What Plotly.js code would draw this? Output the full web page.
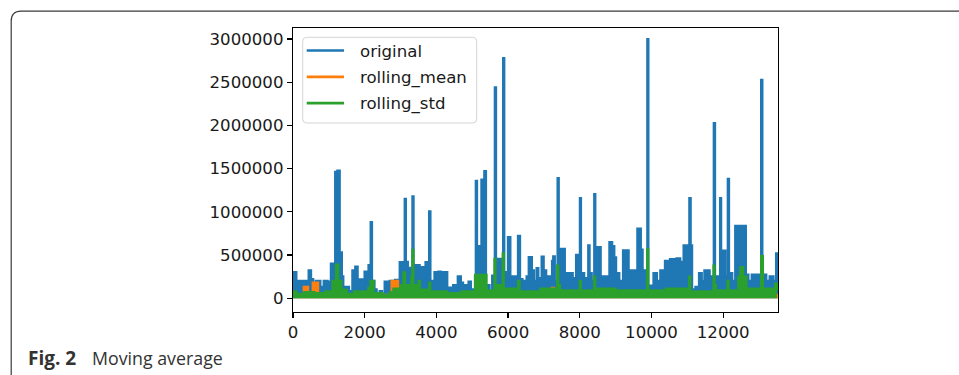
<!DOCTYPE html>
<html><head><meta charset="utf-8">
<script src="https://cdn.plot.ly/plotly-3.0.1.min.js"></script>
<style>html,body{margin:0;padding:0;background:#fff;overflow:hidden}#chart{width:959px;height:375px}</style>
</head><body><div id="chart"></div>
<script>
// ---- data ----
const seriesNames = ['original', 'rolling_mean', 'rolling_std'];
const seriesColors = ['#1f77b4', '#ff7f0e', '#2ca02c'];

const origIdx = [0, 90, 160, 300, 330, 440, 500, 560, 640, 760, 860, 960, 1060, 1180, 1240, 1300, 1360, 1400, 1560, 1660, 1740, 1800, 1860, 1960, 2000, 2110, 2170, 2200, 2270, 2330, 2420, 2480, 2560, 2700, 2850, 2980, 3060, 3120, 3145, 3200, 3335, 3360, 3430, 3530, 3600, 3650, 3700, 3800, 3830, 3900, 3950, 4000, 4060, 4120, 4180, 4230, 4260, 4300, 4470, 4600, 4680, 4740, 4900, 4960, 5080, 5103, 5130, 5260, 5300, 5340, 5380, 5480, 5560, 5634, 5660, 5700, 5760, 5866, 5890, 5950, 6000, 6060, 6150, 6200, 6280, 6330, 6400, 6450, 6520, 6580, 6660, 6720, 6800, 6840, 6940, 6990, 7060, 7120, 7230, 7262, 7300, 7385, 7410, 7480, 7580, 7650, 7720, 7800, 7900, 7940, 8007, 8030, 8120, 8240, 8270, 8330, 8407, 8430, 8500, 8580, 8680, 8750, 8830, 8900, 8960, 9010, 9100, 9210, 9360, 9450, 9520, 9610, 9700, 9750, 9888, 9910, 10060, 10150, 10250, 10380, 10470, 10520, 10700, 10800, 10900, 11060, 11090, 11130, 11230, 11330, 11400, 11480, 11620, 11742, 11770, 11850, 11918, 11940, 12000, 12060, 12133, 12160, 12250, 12340, 12630, 12700, 12800, 13063, 13090, 13200, 13300, 13400, 13480, 13530];
const origVal = [300000, 90000, 200000, 150000, 200000, 320000, 220000, 160000, 200000, 130000, 200000, 190000, 400000, 1460000, 1475000, 530000, 250000, 130000, 80000, 320000, 365000, 200000, 215000, 150000, 307000, 380000, 880000, 200000, 100000, 50000, 80000, 40000, 190000, 200000, 210000, 415000, 300000, 1149000, 420000, 350000, 1177000, 250000, 380000, 250000, 357000, 200000, 415000, 1003000, 200000, 130000, 300000, 200000, 307000, 220000, 300000, 200000, 300000, 120000, 150000, 250000, 180000, 150000, 190000, 100000, 250000, 1358000, 600000, 1370000, 600000, 1470000, 150000, 80000, 260000, 2438000, 455000, 300000, 455000, 2778000, 300000, 160000, 705000, 250000, 160000, 250000, 720000, 220000, 80000, 200000, 250000, 473000, 320000, 200000, 347000, 230000, 480000, 320000, 200000, 250000, 430000, 482000, 200000, 1389000, 300000, 570000, 288000, 220000, 288000, 230000, 501000, 288000, 1157000, 288000, 230000, 609000, 288000, 200000, 1204000, 290000, 590000, 250000, 200000, 250000, 647000, 600000, 470000, 290000, 200000, 551000, 320000, 230000, 320000, 803000, 560000, 320000, 2998000, 145000, 290000, 200000, 320000, 430000, 400000, 450000, 460000, 420000, 609000, 1157000, 609000, 100000, 130000, 290000, 200000, 320000, 250000, 2025000, 250000, 200000, 1157000, 250000, 550000, 250000, 1381000, 290000, 200000, 837000, 270000, 200000, 270000, 2527000, 270000, 200000, 250000, 200000, 516000, 516000];

const meanIdx = [0, 300, 420, 550, 700, 2750, 2930, 7220, 7280, 13530];
const meanVal = [30000, 130000, 60000, 180000, 40000, 200000, 40000, 120000, 40000, 40000];

const stdIdx = [0, 100, 300, 600, 900, 1100, 1200, 1260, 1350, 1500, 1700, 2100, 2160, 2250, 2500, 2700, 2800, 3000, 3080, 3130, 3300, 3330, 3360, 3500, 3540, 3800, 3830, 4300, 4700, 5080, 5400, 5620, 5650, 5850, 5880, 6280, 6320, 6900, 7370, 7400, 7450, 8000, 8030, 8400, 8430, 9000, 9880, 9910, 10400, 11050, 11080, 11730, 11760, 11800, 12120, 12150, 12420, 12480, 12560, 12650, 13060, 13110, 13450, 13500];
const stdVal = [80000, 50000, 70000, 60000, 80000, 200000, 390000, 200000, 100000, 50000, 80000, 120000, 200000, 60000, 40000, 70000, 110000, 150000, 300000, 150000, 250000, 560000, 150000, 200000, 100000, 180000, 80000, 60000, 80000, 270000, 90000, 455000, 150000, 520000, 110000, 200000, 80000, 110000, 377000, 150000, 90000, 200000, 90000, 250000, 110000, 90000, 567000, 90000, 110000, 250000, 80000, 377000, 150000, 90000, 200000, 90000, 250000, 360000, 250000, 110000, 486000, 110000, 170000, 90000];

const xTicks = [0, 2000, 4000, 6000, 8000, 10000, 12000];
const yTicks = [0, 500000, 1000000, 1500000, 2000000, 2500000, 3000000];
const xRange = [0, 13530];
const yRange = [-160000, 3128000];
const captionBold = 'Fig. 2';
const captionText = 'Moving average';

// ---- geometry helpers ----
const W = 959, H = 375;
const M = {l: 293, r: 181, t: 28, b: 63};
const PW = W - M.l - M.r, PH = H - M.t - M.b;
const fx = p => (p - M.l) / PW;
const fy = p => (H - M.b - p) / PH;

const widths = [2.5, 2.2, 2.2];
const traces = [
  {x: origIdx, y: origVal, name: seriesNames[0]},
  {x: meanIdx, y: meanVal, name: seriesNames[1]},
  {x: stdIdx, y: stdVal, name: seriesNames[2]}
].map((t, i) => Object.assign(t, {
  type: 'scatter', mode: 'lines',
  line: {color: seriesColors[i], width: widths[i], shape: 'hv'},
  fill: 'tozeroy', fillcolor: seriesColors[i],
  showlegend: false, hoverinfo: 'skip'
}));

const tickFont = {family: 'DejaVu Sans', size: 16.6, color: '#1a1a1a'};
const capFont = {family: 'Open Sans', size: 17.8, color: '#333'};
const capBoldFont = {family: 'Open Sans', size: 19, color: '#333'};
const shapes = [];
const annotations = [];

// outer rounded figure frame
const fl = 11.2, ft = 11.2, fr = 10;
shapes.push({type: 'path', xref: 'paper', yref: 'paper',
  path: `M ${fx(fl)} ${fy(400)} L ${fx(fl)} ${fy(ft + fr)} Q ${fx(fl)} ${fy(ft)} ${fx(fl + fr)} ${fy(ft)} L ${fx(990)} ${fy(ft)}`,
  line: {color: '#3a3a3a', width: 1.2}});

// legend box
const lb = {x0: 302.7, x1: 476.7, y0: 37.3, y1: 123, r: 4};
shapes.push({type: 'path', xref: 'paper', yref: 'paper',
  path: `M ${fx(lb.x0 + lb.r)} ${fy(lb.y0)} L ${fx(lb.x1 - lb.r)} ${fy(lb.y0)} Q ${fx(lb.x1)} ${fy(lb.y0)} ${fx(lb.x1)} ${fy(lb.y0 + lb.r)} L ${fx(lb.x1)} ${fy(lb.y1 - lb.r)} Q ${fx(lb.x1)} ${fy(lb.y1)} ${fx(lb.x1 - lb.r)} ${fy(lb.y1)} L ${fx(lb.x0 + lb.r)} ${fy(lb.y1)} Q ${fx(lb.x0)} ${fy(lb.y1)} ${fx(lb.x0)} ${fy(lb.y1 - lb.r)} L ${fx(lb.x0)} ${fy(lb.y0 + lb.r)} Q ${fx(lb.x0)} ${fy(lb.y0)} ${fx(lb.x0 + lb.r)} ${fy(lb.y0)} Z`,
  line: {color: '#d4d4d4', width: 1}, fillcolor: 'rgba(255,255,255,0.85)'});
const rowY = [50.5, 76.8, 103.2];
seriesNames.forEach((n, i) => {
  shapes.push({type: 'line', xref: 'paper', yref: 'paper',
    x0: fx(306.7), x1: fx(344), y0: fy(rowY[i]), y1: fy(rowY[i]),
    line: {color: seriesColors[i], width: 2.7}});
  annotations.push({xref: 'paper', yref: 'paper', x: fx(358), y: fy(rowY[i] + 1), xanchor: 'left', yanchor: 'middle',
    text: n, showarrow: false, font: tickFont});
});

// caption
annotations.push({xref: 'paper', yref: 'paper', x: fx(25.5), y: fy(357.5), xanchor: 'left', yanchor: 'middle',
  text: '<b>' + captionBold + '</b>', showarrow: false, font: capBoldFont});
annotations.push({xref: 'paper', yref: 'paper', x: fx(89.5), y: fy(357.5), xanchor: 'left', yanchor: 'middle',
  text: captionText, showarrow: false, font: capFont});

const axisCommon = {
  showgrid: false, zeroline: false, showline: true, mirror: true,
  linecolor: '#000', linewidth: 1.2, ticks: 'outside', ticklen: 5, tickwidth: 1.2, tickcolor: '#000',
  tickfont: tickFont, fixedrange: true
};

const layout = {
  width: W, height: H, autosize: false,
  margin: M, paper_bgcolor: '#fff', plot_bgcolor: '#fff',
  showlegend: false,
  xaxis: Object.assign({}, axisCommon, {range: xRange, tickmode: 'array', tickvals: xTicks, ticktext: xTicks.map(String)}),
  yaxis: Object.assign({}, axisCommon, {range: yRange, tickmode: 'array', tickvals: yTicks, ticktext: yTicks.map(String)}),
  shapes: shapes, annotations: annotations
};

Plotly.newPlot('chart', traces, layout, {staticPlot: true, displayModeBar: false});
</script></body></html>
